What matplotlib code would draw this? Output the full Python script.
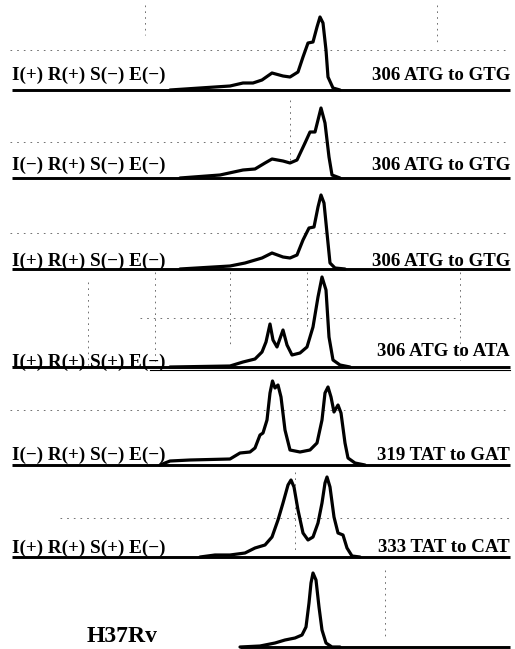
import matplotlib
matplotlib.use("Agg")
import matplotlib.pyplot as plt

# ---- data ----
left_labels = ["I(+) R(+) S(−) E(−)", "I(−) R(+) S(−) E(−)", "I(+) R(+) S(−) E(−)",
               "I(+) R(+) S(+) E(−)", "I(−) R(+) S(−) E(−)", "I(+) R(+) S(+) E(−)", "H37Rv"]
right_labels = ["306 ATG to GTG", "306 ATG to GTG", "306 ATG to GTG",
                "306 ATG to ATA", "319 TAT to GAT", "333 TAT to CAT", ""]

x1 = [170, 200, 230, 243, 253, 262, 272, 283, 290, 298, 303, 308, 313, 317, 320, 323, 326, 328, 333, 340]
h1 = [0, 2, 4, 7, 7, 10, 17, 14, 13, 18, 33, 47, 48, 63, 73, 67, 40, 13, 2, 0]

x2 = [180, 220, 243, 255, 265, 272, 283, 290, 297, 305, 310, 315, 321, 325, 329, 332, 340]
h2 = [0, 3, 8, 9, 15, 19, 17, 15, 18, 35, 46, 46, 70, 55, 21, 3, 0]

x3 = [180, 230, 245, 262, 272, 283, 290, 297, 303, 309, 314, 318, 321, 324, 327, 330, 335, 345]
h3 = [0, 3, 6, 11, 16, 12, 11, 14, 29, 41, 42, 62, 74, 66, 36, 6, 1, 0]

x4 = [170, 230, 243, 255, 262, 266, 270, 273, 277, 283, 287, 292, 300, 307, 313, 318, 322, 326, 329, 333, 340, 350]
h4 = [0, 1, 5, 8, 15, 25, 43, 27, 20, 37, 22, 12, 14, 20, 40, 70, 90, 77, 30, 7, 2, 0]

x5 = [160, 170, 190, 230, 240, 250, 255, 260, 263, 267, 270, 272.5, 275, 278, 281, 285, 290, 300,
      310, 317, 322, 325, 328, 331, 334, 338, 341, 345, 348, 355, 365]
h5 = [0, 4, 5, 6, 12, 13, 17, 30, 32, 45, 72, 84, 77, 80, 68, 35, 15, 13,
      15, 22, 45, 72, 78, 68, 53, 60, 52, 22, 7, 2, 0]

x6 = [200, 215, 230, 245, 255, 265, 272, 278, 283, 288, 291, 294, 298, 303, 308, 313, 318, 322,
      325, 327, 330, 334, 338, 343, 347, 352, 360]
h6 = [0, 2, 2, 4, 9, 12, 20, 37, 54, 72, 77, 70, 47, 24, 17, 20, 34, 54,
      74, 80, 70, 40, 24, 22, 9, 1, 0]

x7 = [240, 260, 275, 285, 295, 302, 306, 309, 311, 313, 316, 319, 322, 326, 332, 340]
h7 = [0, 1, 4, 7, 9, 12, 20, 44, 64, 74, 67, 40, 17, 4, 0, 0]

traces_x = [x1, x2, x3, x4, x5, x6, x7]
traces_h = [h1, h2, h3, h4, h5, h6, h7]

# ---- layout ----
baselines = [90, 178, 269, 367, 465, 557, 647]
base_start = [12, 12, 12, 12, 12, 12, 240]
base_end = 510
left_y = [75, 165, 261, 362, 455, 548, 637]
left_x = [12, 12, 12, 12, 12, 12, 87]
left_size = [13.8] * 6 + [17]
right_y = [75, 166, 261, 351, 455, 548, 0]

fig = plt.figure(figsize=(5.15, 6.49), dpi=100)
ax = fig.add_axes([0, 0, 1, 1])
ax.set_xlim(0, 515)
ax.set_ylim(649, 0)
ax.axis("off")

font = dict(family=["Liberation Serif", "DejaVu Serif"], fontweight="bold", color="black")

# faint scan grid remnants
grid_h = [(50, 10, 510), (142, 10, 510), (233, 10, 510), (318, 140, 460),
          (410, 10, 510), (518, 60, 510)]
for y, xa, xb in grid_h:
    ax.plot([xa, xb], [y, y], color="0.35", lw=0.6, ls=(0, (2, 6)), zorder=1)
grid_v = [(145, 5, 35), (437, 5, 45), (290, 100, 160), (88, 282, 365), (155, 272, 365),
          (230, 272, 345), (307, 272, 330), (460, 272, 360), (295, 472, 550), (385, 570, 640)]
for x, ya, yb in grid_v:
    ax.plot([x, x], [ya, yb], color="0.35", lw=0.6, ls=(0, (2, 5)), zorder=1)

for i in range(7):
    b = baselines[i]
    ax.plot([base_start[i], base_end], [b, b], color="black", lw=2.1, solid_capstyle="butt", zorder=2)
    ys = [b - v for v in traces_h[i]]
    ax.plot(traces_x[i], ys, color="black", lw=2.3, solid_joinstyle="round",
            solid_capstyle="round", zorder=3)
    ax.text(left_x[i], left_y[i], left_labels[i], ha="left", va="center",
            fontsize=left_size[i], **font)
    if right_labels[i]:
        ax.text(510, right_y[i], right_labels[i], ha="right", va="center", fontsize=13.6, **font)

# thin second line under panel 4
ax.plot([150, 510], [370, 370], color="black", lw=0.8, zorder=2)

fig.savefig("out.png", dpi=100, facecolor="white")
